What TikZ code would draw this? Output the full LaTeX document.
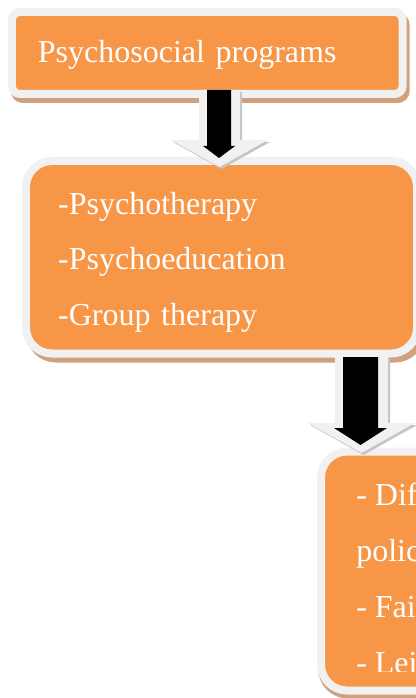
\documentclass[tikz,border=0pt]{standalone}
\usepackage{fontspec}
\setmainfont{Liberation Serif}
\usetikzlibrary{calc}
\definecolor{boxorange}{RGB}{247,150,70}
\definecolor{rimgray}{RGB}{241,241,241}
\definecolor{shadowtan}{RGB}{208,161,126}
\definecolor{arrowshade}{RGB}{196,196,196}
\tikzset{pbox/.style={draw=rimgray, fill=boxorange, line width=6pt, text=white,
            font=\fontsize{24}{41.5}\selectfont, align=left, inner ysep=0pt},
         tan shadow/.style={preaction={draw=shadowtan, fill=shadowtan, line width=6pt,
            transform canvas={shift={#1}}}},
         list text/.style={text=white, font=\fontsize{24}{42}\selectfont, align=left, inner sep=0pt}}
\newcommand*\fatarrow[6]{(#1-#5,#2) -- (#1-#5,#3) -- (#1-#6,#3) -- (#1,#4) -- (#1+#6,#3) -- (#1+#5,#3) -- (#1+#5,#2) -- cycle}

\begin{document}
\begin{tikzpicture}[x=0.75pt, y=-0.75pt]
        \useasboundingbox (0,0) rectangle (416,698);
        \node[pbox, tan shadow={(3,5)}, rounded corners=6pt, minimum width=293pt, minimum height=61.5pt,
              text width=254pt, inner xsep=19.5pt] (programs) at (207.25,53) {\rule{0pt}{19.5pt}Psychosocial programs};
        \node[pbox, tan shadow={(4,5)}, rounded corners=19.5pt, minimum width=293.25pt, minimum height=144.4pt,
              text width=245pt, inner xsep=24pt] (therapies) at (221.5,257.25)
              {\rule{0pt}{24pt}-Psychotherapy\\-Psychoeducation\\-Group therapy};
        \node[pbox, tan shadow={(1,4)}, rounded corners=19.5pt, minimum width=300pt, minimum height=179.25pt]
              (outcomes) at (521,571) {};
        \begin{scope}
            \clip (0,0) rectangle (416,671);
            \node[list text, anchor=north west] (outcometext) at (356,483) {- Dif\\polic\\- Fai\\- Lei};
        \end{scope}
        %
        \fill[arrowshade, shift={(2,2)}] \fatarrow{219.5}{90}{140}{167}{20.5}{48.5};
        \fill[rimgray] \fatarrow{219.5}{90}{140}{167}{20.5}{48.5};
        \fill[black] \fatarrow{219}{90}{146}{158}{12}{16};
        %
        \fill[arrowshade, shift={(2,2)}] \fatarrow{361.5}{357}{423}{453}{26.5}{53.5};
        \fill[rimgray] \fatarrow{361.5}{357}{423}{453}{26.5}{53.5};
        \fill[black] \fatarrow{360.5}{357}{428}{445}{17.5}{26.5};
\end{tikzpicture}
\end{document}
